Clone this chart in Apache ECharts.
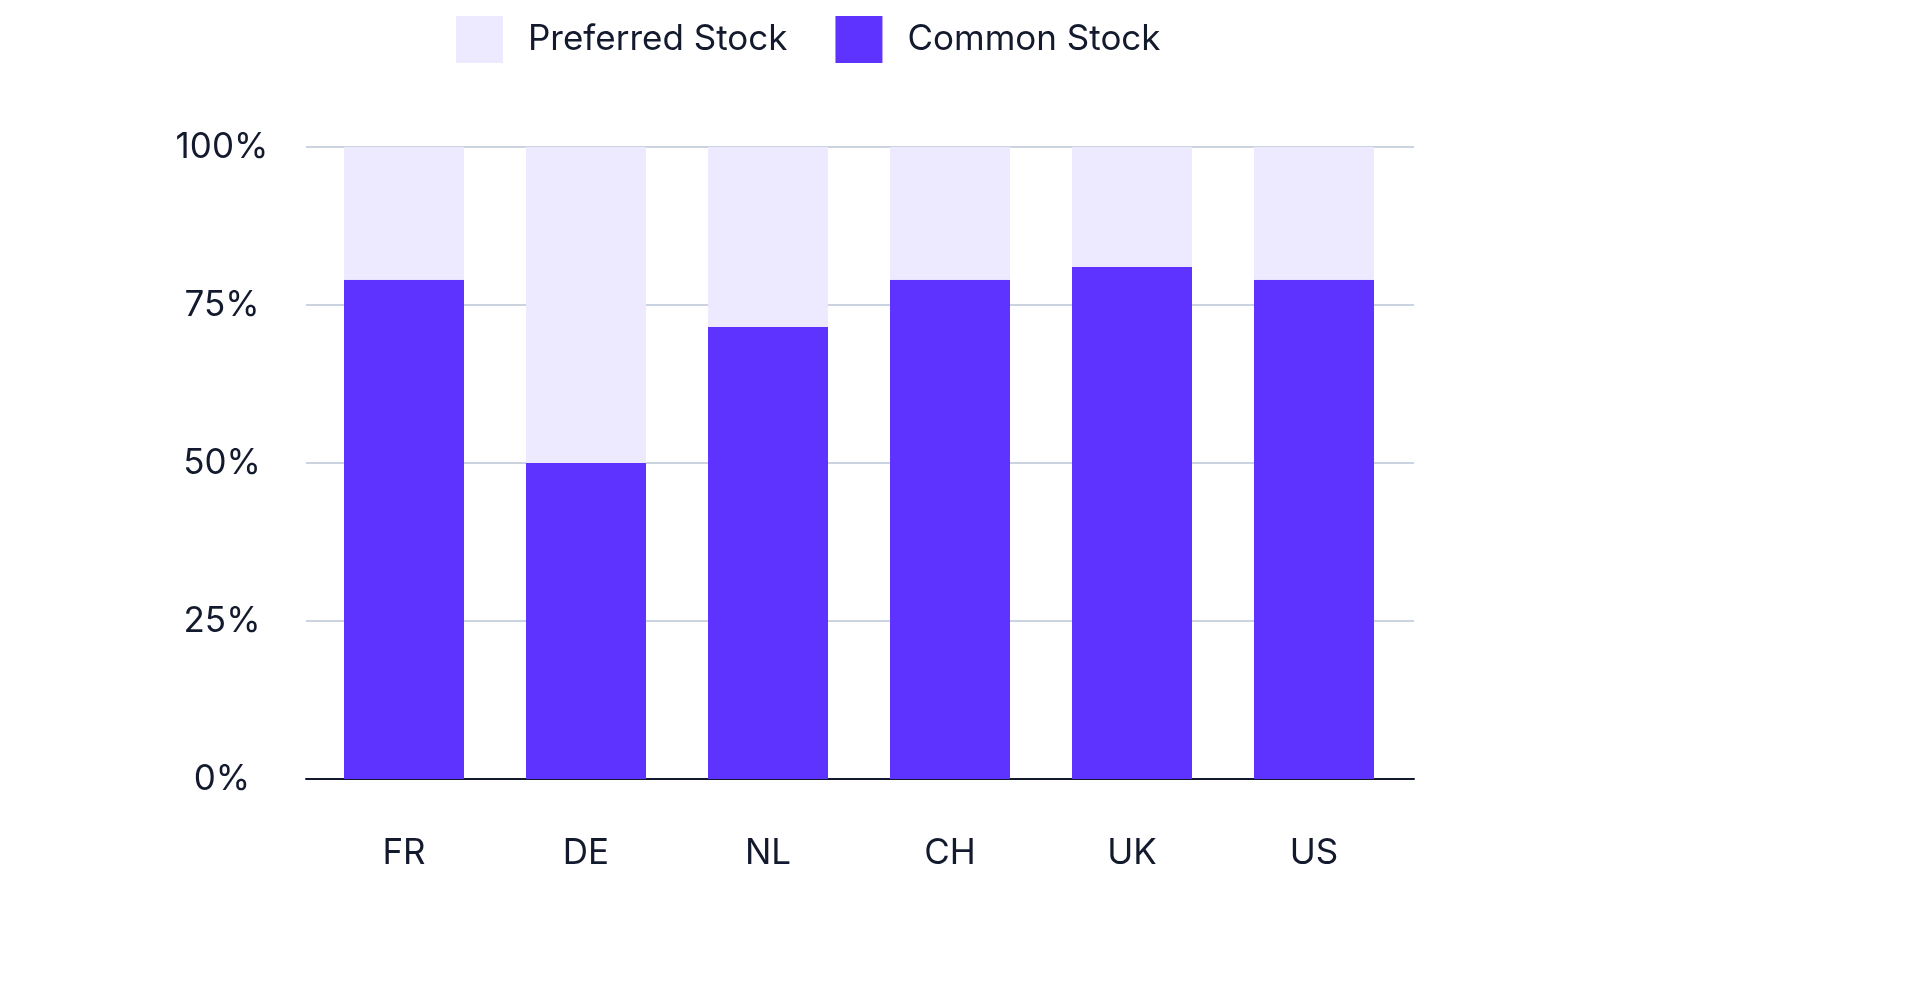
<!DOCTYPE html>
<html>
<head>
<meta charset="utf-8">
<script src="https://cdn.jsdelivr.net/npm/echarts@6/dist/echarts.min.js"></script>
<style>
html,body{margin:0;padding:0;background:#fff;}
#c{width:1924px;height:1000px;}
</style>
</head>
<body>
<div id="c"></div>
<script>
const categories = ['FR', 'DE', 'NL', 'CH', 'UK', 'US'];
const commonStock = [79, 50, 71.5, 79, 81, 79];
const preferredStock = [21, 50, 28.5, 21, 19, 21];
const yTicks = [0, 25, 50, 75, 100];

const FONT = 'Inter';
const TEXT = '#131a2e';
const FS = 35;
const chart = echarts.init(document.getElementById('c'));
chart.setOption({
  animation: false,
  backgroundColor: '#ffffff',
  textStyle: { fontFamily: FONT },
  legend: {
    left: 451, top: 11,
    itemWidth: 47, itemHeight: 47, itemGap: 48,
    icon: 'rect',
    data: ['Preferred Stock', 'Common Stock'],
    textStyle: { fontFamily: FONT, fontSize: FS, color: TEXT, padding: [0, 0, 0, 20] }
  },
  grid: [
    { left: 306, right: 510, top: 147, bottom: 221 },
    { left: 313, right: 519, top: 147, bottom: 221 }
  ],
  xAxis: [
    {
      gridIndex: 0, type: 'category', data: categories,
      axisLine: { show: true, lineStyle: { color: '#131a2e', width: 2 } },
      axisTick: { show: false }, axisLabel: { show: false }
    },
    {
      gridIndex: 1, type: 'category', data: categories,
      axisLine: { show: false }, axisTick: { show: false },
      axisLabel: { fontFamily: FONT, fontSize: FS, color: TEXT, margin: 57 }
    }
  ],
  yAxis: [
    {
      gridIndex: 0, type: 'value', min: yTicks[0], max: yTicks[yTicks.length - 1], interval: 25,
      axisLine: { show: false }, axisTick: { show: false },
      splitLine: { lineStyle: { color: '#cbd3e1', width: 2 } },
      axisLabel: { fontFamily: FONT, fontSize: FS, color: TEXT, align: 'center', margin: 84,
        formatter: v => v + '%' }
    },
    {
      gridIndex: 1, type: 'value', min: 0, max: 100, interval: 25, show: false
    }
  ],
  series: [
    {
      name: 'Common Stock', type: 'bar', stack: 's', xAxisIndex: 1, yAxisIndex: 1,
      data: commonStock, barWidth: 120, itemStyle: { color: '#5f33ff' }
    },
    {
      name: 'Preferred Stock', type: 'bar', stack: 's', xAxisIndex: 1, yAxisIndex: 1,
      data: preferredStock, barWidth: 120, itemStyle: { color: '#ede9ff' }
    }
  ]
});
</script>
</body>
</html>
